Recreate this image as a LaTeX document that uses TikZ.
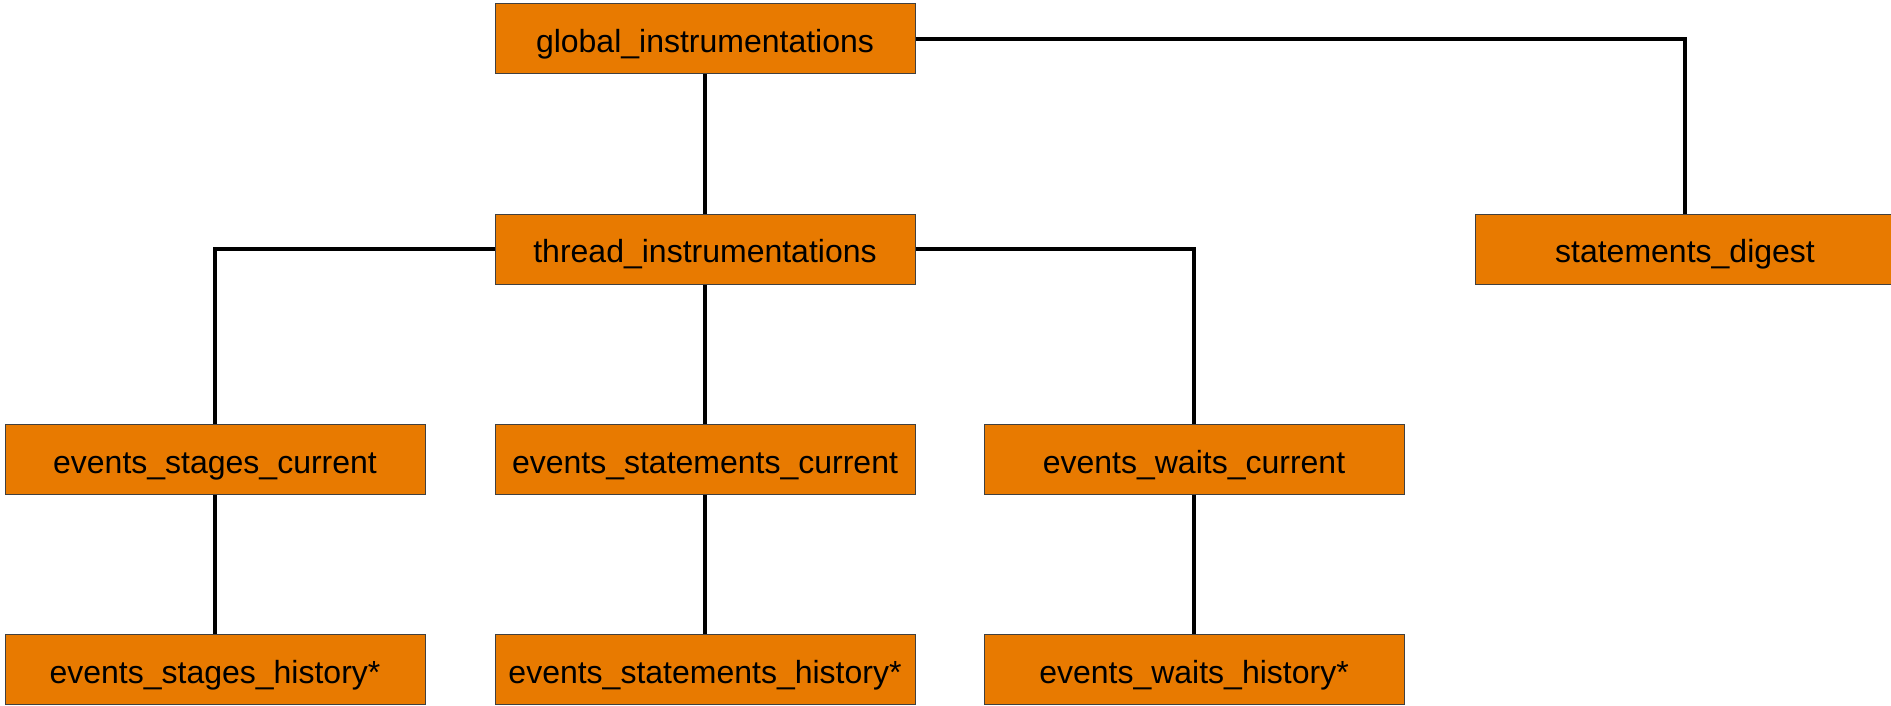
\documentclass[tikz,border=0pt]{standalone}
\usepackage{fontspec}
\setmainfont{Liberation Sans}
\definecolor{boxorange}{RGB}{232,122,0}
\begin{document}
\begin{tikzpicture}[x=0.5pt,y=-0.5pt,
  tbl/.style={draw=black!75, line width=0.5pt, fill=boxorange, minimum width=210pt, minimum height=35pt, inner sep=0pt, text height=14pt, text depth=0pt, font=\fontsize{16}{19}\selectfont, text=black},
  conn/.style={line width=1.9pt, black}]
\useasboundingbox (0,0) rectangle (1891,706);
\node[tbl] (gi) at (705,39) {global\_instrumentations};
\node[tbl] (ti) at (705,249) {thread\_instrumentations};
\node[tbl] (sd) at (1685,249) {statements\_digest};
\node[tbl] (esc) at (215,459) {events\_stages\_current};
\node[tbl] (estc) at (705,459) {events\_statements\_current};
\node[tbl] (ewc) at (1194,459) {events\_waits\_current};
\node[tbl] (esh) at (215,669) {events\_stages\_history*};
\node[tbl] (esth) at (705,669) {events\_statements\_history*};
\node[tbl] (ewh) at (1194,669) {events\_waits\_history*};
\draw[conn] (gi.south) -- (ti.north);
\draw[conn] (gi.east) -| (sd.north);
\draw[conn] (ti.west) -| (esc.north);
\draw[conn] (ti.south) -- (estc.north);
\draw[conn] (ti.east) -| (ewc.north);
\draw[conn] (esc.south) -- (esh.north);
\draw[conn] (estc.south) -- (esth.north);
\draw[conn] (ewc.south) -- (ewh.north);
\end{tikzpicture}
\end{document}
